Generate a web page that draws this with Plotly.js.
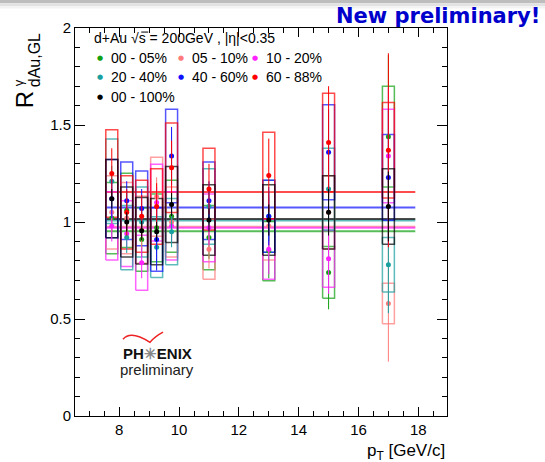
<!DOCTYPE html>
<html><head><meta charset="utf-8">
<script src="https://cdn.plot.ly/plotly-3.0.1.min.js"></script>
<style>html,body{margin:0;padding:0;background:#fff}</style>
</head><body>
<div id="chart" style="width:545px;height:462px"></div>
<script>
// ---- data ----
const pt = [7.75, 8.25, 8.75, 9.25, 9.75, 11, 13, 15, 17];
const seriesNames = ["00 - 05%", "05 - 10%", "10 - 20%", "20 - 40%", "40 - 60%", "60 - 88%", "00 - 100%"];
const r0005  = [1.02, 1.06, 0.91, 0.97, 1.03, 0.92, 0.85, 0.74, 1.44];
const r0510  = [1.05, 1.02, 0.96, 1.13, 1.00, 0.86, 0.98, 1.05, 0.58];
const r1020  = [0.98, 0.94, 0.79, 1.10, 0.98, 0.97, 0.86, 0.81, 1.34];
const r2040  = [1.21, 0.92, 1.00, 0.87, 0.95, 1.08, 1.03, 1.17, 0.78];
const r4060  = [1.12, 1.11, 1.07, 0.91, 1.34, 1.11, 1.03, 1.36, 1.23];
const r6088  = [1.25, 1.05, 1.03, 1.08, 1.28, 1.17, 1.24, 1.41, 1.37];
const r00100 = [1.12, 1.00, 0.955, 0.95, 1.09, 1.01, 1.01, 1.05, 1.08];
const s0005  = [0.10, 0.10, 0.09, 0.10, 0.11, 0.11, 0.14, 0.19, 0.42];
const s0510  = [0.10, 0.10, 0.10, 0.10, 0.10, 0.10, 0.15, 0.20, 0.30];
const s1020  = [0.08, 0.08, 0.08, 0.08, 0.08, 0.09, 0.13, 0.18, 0.35];
const s2040  = [0.08, 0.08, 0.08, 0.08, 0.08, 0.09, 0.13, 0.20, 0.25];
const s4060  = [0.10, 0.10, 0.10, 0.16, 0.15, 0.10, 0.15, 0.22, 0.35];
const s6088  = [0.13, 0.12, 0.11, 0.12, 0.14, 0.13, 0.19, 0.29, 0.50];
const s00100 = [0.05, 0.05, 0.05, 0.05, 0.06, 0.06, 0.08, 0.12, 0.18];
const sysFrac = 0.18;          // relative systematic uncertainty (boxes)
const fitVals = [0.952, 0.975, 0.97, 1.008, 1.075, 1.155, 1.016];
const fitRange = [7.55, 17.9];
const xTickVals = [8, 10, 12, 14, 16, 18];
const yTickVals = [0, 0.5, 1, 1.5, 2];

const values = [r0005, r0510, r1020, r2040, r4060, r6088, r00100];
const stats  = [s0005, s0510, s1020, s2040, s4060, s6088, s00100];
const colors = ["#11a011", "#ff7a7a", "#ff22ff", "#1a9f9f", "#1010ff", "#ff0000", "#000000"];
const boxHalf = 0.2;

const traces = [];
// fit lines
values.forEach((v, i) => {
  traces.push({x: fitRange, y: [fitVals[i], fitVals[i]], mode: 'lines', showlegend: false,
    hoverinfo: 'skip', opacity: 0.7, line: {color: colors[i], width: 2}});
});
// systematic boxes
values.forEach((v, i) => {
  const bx = [], by = [];
  v.forEach((y, k) => {
    const lo = y * (1 - sysFrac), hi = y * (1 + sysFrac);
    bx.push(pt[k] - boxHalf, pt[k] + boxHalf, pt[k] + boxHalf, pt[k] - boxHalf, pt[k] - boxHalf, null);
    by.push(lo, lo, hi, hi, lo, null);
  });
  traces.push({x: bx, y: by, mode: 'lines', showlegend: false, hoverinfo: 'skip',
    opacity: 0.7, line: {color: colors[i], width: 1.5}});
});
// points with stat errors
values.forEach((v, i) => {
  traces.push({x: pt, y: v, mode: 'markers', name: seriesNames[i], showlegend: false,
    marker: {color: colors[i], size: 5},
    error_y: {type: 'data', array: stats[i], visible: true, color: colors[i], thickness: 1, width: 0}});
});

// legend (drawn as annotations)
const annotations = [];
const FF = 'Liberation Sans, Arial, sans-serif';
const lf = {family: FF, size: 14, color: '#000'};
annotations.push({xref: 'paper', yref: 'paper', x: 0.045, y: 0.974, xanchor: 'left', yanchor: 'middle',
  text: "d+Au √s = 200GeV , |η|<0.35", showarrow: false, font: lf});
const legPos = [[0.067, 0.922], [0.285, 0.922], [0.484, 0.922], [0.067, 0.873], [0.285, 0.873], [0.484, 0.873], [0.067, 0.821]];
seriesNames.forEach((n, i) => {
  annotations.push({xref: 'paper', yref: 'paper', x: legPos[i][0], y: legPos[i][1], xanchor: 'center', yanchor: 'middle',
    text: '●', showarrow: false, font: {family: 'DejaVu Sans', size: 7, color: colors[i]}});
  annotations.push({xref: 'paper', yref: 'paper', x: legPos[i][0] + 0.0245, y: legPos[i][1], xanchor: 'left', yanchor: 'middle',
    text: n, showarrow: false, font: lf});
});
// axis titles
annotations.push({xref: 'paper', yref: 'paper', x: 1, y: -0.093, xanchor: 'right', yanchor: 'middle',
  text: 'p<sub>T</sub> [GeV/c]', showarrow: false, font: {family: FF, size: 17, color: '#000'}});
annotations.push({xref: 'paper', yref: 'paper', x: -0.137, y: 0.814, xanchor: 'center', yanchor: 'middle', textangle: -90,
  text: 'R', showarrow: false, font: {family: FF, size: 24, color: '#000'}});
annotations.push({xref: 'paper', yref: 'paper', x: -0.109, y: 0.918, xanchor: 'center', yanchor: 'middle', textangle: -90,
  text: 'dAu,GL', showarrow: false, font: {family: FF, size: 16, color: '#000'}});
annotations.push({xref: 'paper', yref: 'paper', x: -0.153, y: 0.858, xanchor: 'center', yanchor: 'middle', textangle: -90,
  text: 'γ', showarrow: false, font: {family: FF, size: 13, color: '#000'}});
// header
annotations.push({xref: 'paper', yref: 'paper', x: 1.255, y: 1.03, xanchor: 'right', yanchor: 'middle',
  text: '<b>New preliminary!</b>', showarrow: false, font: {family: 'DejaVu Sans, sans-serif', size: 21, color: '#0000cc'}});
// PHENIX logo
annotations.push({xref: 'paper', yref: 'paper', x: 0.222, y: 0.16, xanchor: 'center', yanchor: 'middle',
  text: "<b>PH<span style='color:#888'>✳</span>ENIX</b>", showarrow: false,
  font: {family: FF, size: 15, color: '#111'}});
annotations.push({xref: 'paper', yref: 'paper', x: 0.22, y: 0.12, xanchor: 'center', yanchor: 'middle',
  text: 'preliminary', showarrow: false, font: {family: FF, size: 15, color: '#222'}});

const shapes = [
  {type: 'rect', xref: 'paper', yref: 'paper', x0: -0.25, x1: 1.3, y0: 1.064, y1: 1.075, line: {width: 0}, fillcolor: '#bdbdbd', layer: 'below'},
  {type: 'rect', xref: 'paper', yref: 'paper', x0: -0.25, x1: 1.3, y0: 1.056, y1: 1.064, line: {width: 0}, fillcolor: '#e2e2e2', layer: 'below'},
  {type: 'rect', xref: 'paper', yref: 'paper', x0: -0.25, x1: 1.3, y0: 1.050, y1: 1.056, line: {width: 0}, fillcolor: '#f3f3f3', layer: 'below'},
  // overline on the s of sqrt(s)
  {type: 'line', xref: 'paper', yref: 'paper', x0: 0.178, x1: 0.197, y0: 0.9895, y1: 0.9895, line: {color: '#000', width: 1}},
  {type: 'path', xref: 'paper', yref: 'paper', path: 'M 0.129,0.198 Q 0.15,0.222 0.2016,0.19 Q 0.215,0.205 0.2366,0.216',
   line: {color: '#ee2222', width: 1.5}}
];

const axisFont = {family: FF, size: 15, color: '#000'};
const layout = {
  width: 545, height: 462,
  margin: {l: 75, r: 98, t: 28, b: 46},
  paper_bgcolor: '#fff', plot_bgcolor: '#fff',
  showlegend: false,
  xaxis: {range: [6.52, 18.96], tickvals: xTickVals, ticks: 'inside', ticklen: 9, tickwidth: 1, tickcolor: '#000',
    minor: {dtick: 0.5, ticks: 'inside', ticklen: 5, tickcolor: '#000'},
    showline: true, linecolor: '#000', linewidth: 1, mirror: 'ticks', showgrid: false, zeroline: false,
    tickfont: axisFont},
  yaxis: {range: [0, 2], tickvals: yTickVals, ticks: 'inside', ticklen: 10, tickwidth: 1, tickcolor: '#000',
    minor: {dtick: 0.1, ticks: 'inside', ticklen: 5, tickcolor: '#000'},
    showline: true, linecolor: '#000', linewidth: 1, mirror: 'ticks', showgrid: false, zeroline: false,
    tickfont: axisFont},
  annotations: annotations,
  shapes: shapes
};
Plotly.newPlot('chart', traces, layout, {staticPlot: true, displayModeBar: false});
</script>
</body></html>
